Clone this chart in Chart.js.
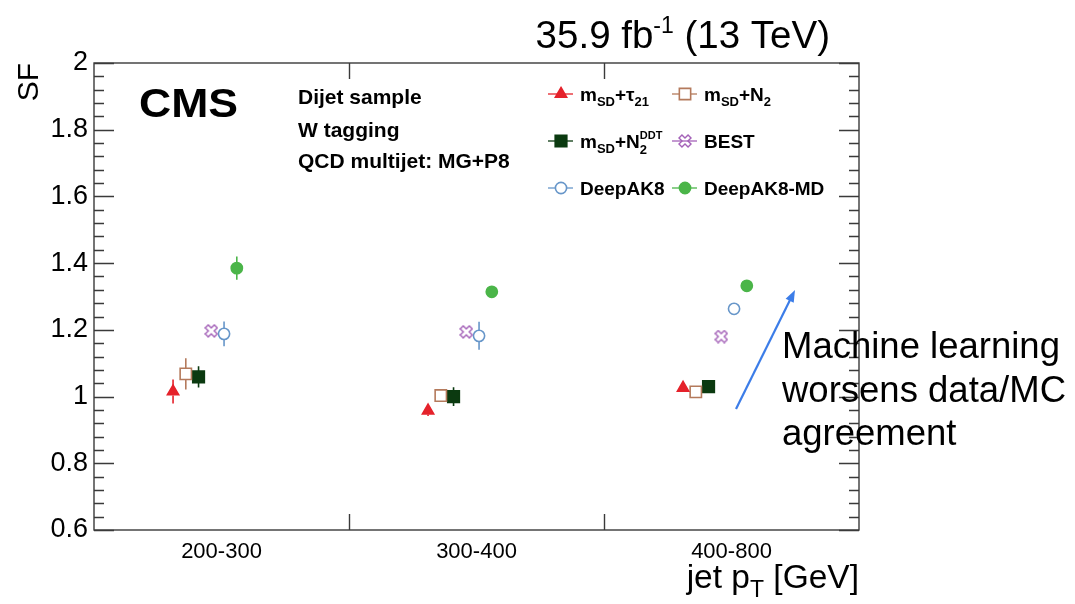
<!DOCTYPE html>
<html>
<head>
<meta charset="utf-8">
<title>SF vs jet pT</title>
<script src="https://cdn.jsdelivr.net/npm/chart.js@4.4.0/dist/chart.umd.min.js"></script>
<style>
  html, body { margin: 0; padding: 0; background: #fff; }
  canvas { display: block; }
</style>
</head>
<body>
<canvas id="sf_chart" width="1075" height="604"></canvas>
<script>
// pT bins (x axis categories) and y axis ticks
var ptBins = ["200-300", "300-400", "400-800"];
var binCentres = [0.5, 1.5, 2.5];
var binEdges = [1, 2];
var yTicks = [0.6, 0.8, 1, 1.2, 1.4, 1.6, 1.8, 2];

// scale factors and uncertainties per tagger, one entry per pT bin
var sfTau21 = [1.015, 0.958, 1.026];
var errTau21 = [0.036, 0.016, 0.012];
var sfN2 = [1.068, 1.003, 1.014];
var errN2 = [0.047, 0.012, 0.012];
var sfN2DDT = [1.059, 1.000, 1.030];
var errN2DDT = [0.032, 0.028, 0.012];
var sfBest = [1.197, 1.194, 1.180];
var errBest = [0.012, 0.010, 0.010];
var sfDeepAK8 = [1.188, 1.182, 1.263];
var errDeepAK8 = [0.037, 0.042, 0.012];
var sfDeepAK8MD = [1.385, 1.314, 1.332];
var errDeepAK8MD = [0.035, 0.012, 0.012];

// position of each tagger inside its bin (fraction of the bin width)
var binFraction = [0.31, 0.36, 0.41, 0.46, 0.51, 0.56];

var FONT = "'Liberation Sans', Arial, Helvetica, sans-serif";

// open X-shaped cross for BEST
function openCrossX(size, color) {
	var c = document.createElement("canvas");
	c.width = size;
	c.height = size;
	var g = c.getContext("2d");
	var a = 2.1, L = 6.4;
	g.translate(size / 2, size / 2);
	g.rotate(Math.PI / 4);
	g.beginPath();
	g.moveTo(-a, -L); g.lineTo(a, -L); g.lineTo(a, -a); g.lineTo(L, -a);
	g.lineTo(L, a); g.lineTo(a, a); g.lineTo(a, L); g.lineTo(-a, L);
	g.lineTo(-a, a); g.lineTo(-L, a); g.lineTo(-L, -a); g.lineTo(-a, -a);
	g.closePath();
	g.strokeStyle = color;
	g.lineWidth = 1.4;
	g.stroke();
	return c;
}

var taggers = [
	{ sf: sfTau21, err: errTau21, color: "#e5222b", style: "triangle", radius: 6.5, filled: true, gap: 4,
	  name: [{ t: "m" }, { t: "SD", s: 13, dy: 5 }, { t: "+\u03c4" }, { t: "21", s: 13, dy: 5 }] },
	{ sf: sfN2, err: errN2, color: "#b47a5c", style: "rect", radius: 8, filled: false, gap: 5.7,
	  name: [{ t: "m" }, { t: "SD", s: 13, dy: 5 }, { t: "+N" }, { t: "2", s: 13, dy: 5 }] },
	{ sf: sfN2DDT, err: errN2DDT, color: "#0b3a10", style: "rect", radius: 8.2, filled: true, gap: 5.8,
	  name: [{ t: "m" }, { t: "SD", s: 13, dy: 5 }, { t: "+N" }, { t: "2", s: 13, dy: 6, stay: true }, { t: "DDT", s: 11, dy: -9 }] },
	{ sf: sfBest, err: errBest, color: "#a462b8", style: openCrossX(14, "#a462b8"), radius: 7, filled: false, gap: 6,
	  name: [{ t: "BEST" }] },
	{ sf: sfDeepAK8, err: errDeepAK8, color: "#6796c9", style: "circle", radius: 5.6, filled: false, gap: 5.6,
	  name: [{ t: "DeepAK8" }] },
	{ sf: sfDeepAK8MD, err: errDeepAK8MD, color: "#4bb549", style: "circle", radius: 5.6, filled: true, gap: 5.6,
	  name: [{ t: "DeepAK8-MD" }] }
];

var datasets = taggers.map(function(tg, k) {
	return {
		data: tg.sf.map(function(v, i) { return { x: i + binFraction[k], y: v }; }),
		errors: tg.err,
		gap: tg.gap,
		borderColor: tg.color,
		backgroundColor: tg.filled ? tg.color : "rgba(0,0,0,0)",
		pointStyle: tg.style,
		pointRadius: tg.radius,
		pointBorderWidth: 1.6,
		showLine: false
	};
});

// draw a string made of pieces with sub/superscripts, returns width
function richWidth(ctx, parts, size, weight) {
	var w = 0;
	parts.forEach(function(p) {
		ctx.font = weight + " " + (p.s || size) + "px " + FONT;
		var pw = ctx.measureText(p.t).width;
		if (!p.stay) w += pw;
	});
	return w;
}
function drawRich(ctx, x, y, parts, size, weight) {
	parts.forEach(function(p) {
		ctx.font = weight + " " + (p.s || size) + "px " + FONT;
		ctx.fillText(p.t, x, y + (p.dy || 0));
		if (!p.stay) x += ctx.measureText(p.t).width;
	});
}

// vertical error bars, kept outside the marker
var errorBars = {
	id: "errorBars",
	beforeDatasetsDraw: function(chart) {
		var ctx = chart.ctx;
		var ys = chart.scales.y;
		chart.data.datasets.forEach(function(ds, i) {
			var meta = chart.getDatasetMeta(i);
			ctx.save();
			ctx.strokeStyle = ds.borderColor;
			ctx.lineWidth = 1.6;
			meta.data.forEach(function(pt, j) {
				var v = ds.data[j].y;
				var top = ys.getPixelForValue(v + ds.errors[j]);
				var bot = ys.getPixelForValue(v - ds.errors[j]);
				ctx.beginPath();
				if (pt.y - top > ds.gap) { ctx.moveTo(pt.x, pt.y - ds.gap); ctx.lineTo(pt.x, top); }
				if (bot - pt.y > ds.gap) { ctx.moveTo(pt.x, pt.y + ds.gap); ctx.lineTo(pt.x, bot); }
				ctx.stroke();
			});
			ctx.restore();
		});
	}
};

// frame with ticks on all four sides
var frame = {
	id: "frame",
	beforeDatasetsDraw: function(chart) {
		var ctx = chart.ctx, a = chart.chartArea;
		var xs = chart.scales.x, ys = chart.scales.y;
		ctx.save();
		ctx.strokeStyle = "#3a3a3a";
		ctx.lineWidth = 1.4;
		ctx.strokeRect(a.left, a.top, a.right - a.left, a.bottom - a.top);
		ctx.beginPath();
		for (var k = 0; k <= 35; k++) {
			var v = 0.6 + k * 0.04;
			var py = Math.round(ys.getPixelForValue(v)) + 0.5;
			var len = (k % 5 === 0) ? 20 : 10;
			ctx.moveTo(a.left, py); ctx.lineTo(a.left + len, py);
			ctx.moveTo(a.right, py); ctx.lineTo(a.right - len, py);
		}
		binEdges.forEach(function(e) {
			var px = Math.round(xs.getPixelForValue(e)) + 0.5;
			ctx.moveTo(px, a.bottom); ctx.lineTo(px, a.bottom - 16);
			ctx.moveTo(px, a.top); ctx.lineTo(px, a.top + 16);
		});
		ctx.stroke();
		ctx.restore();
	}
};

// labels, legend and annotation
var texts = {
	id: "texts",
	afterDraw: function(chart) {
		var ctx = chart.ctx, a = chart.chartArea;
		ctx.save();
		ctx.fillStyle = "#000";
		ctx.textBaseline = "alphabetic";
		ctx.textAlign = "left";

		// luminosity
		var lumi = [{ t: "35.9 fb" }, { t: "-1", s: 23, dy: -15 }, { t: " (13 TeV)" }];
		drawRich(ctx, 830 - richWidth(ctx, lumi, 38.5, "normal"), 48, lumi, 38.5, "normal");

		// CMS
		ctx.font = "bold 40px " + FONT;
		var cw = ctx.measureText("CMS").width;
		ctx.save();
		ctx.translate(139, 117);
		ctx.scale(99 / cw, 1);
		ctx.fillText("CMS", 0, 0);
		ctx.restore();

		ctx.font = "bold 21px " + FONT;
		ctx.fillText("Dijet sample", 298, 104);
		ctx.fillText("W tagging", 298, 137);
		ctx.fillText("QCD multijet: MG+P8", 298, 168);

		// legend
		var cols = [561, 685], rows = [94, 141, 188];
		taggers.forEach(function(tg, k) {
			var mx = cols[k % 2], my = rows[Math.floor(k / 2)];
			ctx.save();
			ctx.strokeStyle = tg.color;
			ctx.lineWidth = 1.3;
			ctx.beginPath();
			ctx.moveTo(mx - 13, my); ctx.lineTo(mx + 12, my);
			ctx.stroke();
			ctx.fillStyle = tg.filled ? tg.color : "#fff";
			ctx.lineWidth = 1.6;
			Chart.helpers.drawPoint(ctx, { pointStyle: tg.style, radius: tg.radius, borderWidth: 1.6, rotation: 0 }, mx, my);
			ctx.restore();
			drawRich(ctx, mx + 19, my + 7, tg.name, 19, "bold");
		});

		// x axis title
		var xt = [{ t: "jet p" }, { t: "T", s: 23, dy: 9 }, { t: " [GeV]" }];
		drawRich(ctx, a.right - richWidth(ctx, xt, 33.5, "normal"), 588, xt, 33.5, "normal");

		// arrow and comment
		ctx.strokeStyle = "#3c7de8";
		ctx.fillStyle = "#3c7de8";
		ctx.lineWidth = 2.2;
		var x0 = 736, y0 = 409, x1 = 795, y1 = 290;
		var ang = Math.atan2(y1 - y0, x1 - x0);
		ctx.beginPath();
		ctx.moveTo(x0, y0);
		ctx.lineTo(x1 - 9 * Math.cos(ang), y1 - 9 * Math.sin(ang));
		ctx.stroke();
		ctx.beginPath();
		ctx.moveTo(x1, y1);
		ctx.lineTo(x1 - 12 * Math.cos(ang) + 4.5 * Math.sin(ang), y1 - 12 * Math.sin(ang) - 4.5 * Math.cos(ang));
		ctx.lineTo(x1 - 12 * Math.cos(ang) - 4.5 * Math.sin(ang), y1 - 12 * Math.sin(ang) + 4.5 * Math.cos(ang));
		ctx.closePath();
		ctx.fill();

		ctx.fillStyle = "#000";
		ctx.font = "36.5px " + FONT;
		ctx.fillText("Machine learning", 782, 358);
		ctx.fillText("worsens data/MC", 782, 402);
		ctx.fillText("agreement", 782, 445);
		ctx.restore();
	}
};

var chart = new Chart(document.getElementById("sf_chart"), {
	type: "scatter",
	data: { datasets: datasets },
	plugins: [frame, errorBars, texts],
	options: {
		responsive: false,
		animation: false,
		devicePixelRatio: 1,
		events: [],
		layout: { padding: { left: 0, top: 63, right: 216, bottom: 0 } },
		plugins: { legend: { display: false }, tooltip: { enabled: false } },
		scales: {
			x: {
				type: "linear", min: 0, max: 3,
				grid: { display: false, drawTicks: false },
				border: { display: false },
				afterBuildTicks: function(s) { s.ticks = binCentres.map(function(v) { return { value: v }; }); },
				afterFit: function(s) { s.height = 74; },
				ticks: {
					autoSkip: false, maxRotation: 0, padding: 9, color: "#000",
					font: { family: FONT, size: 22 },
					callback: function(v, i) { return ptBins[i]; }
				}
			},
			y: {
				type: "linear", min: 0.6, max: 2,
				grid: { display: false, drawTicks: false },
				border: { display: false },
				afterBuildTicks: function(s) { s.ticks = yTicks.map(function(v) { return { value: v }; }); },
				afterFit: function(s) { s.width = 94; },
				ticks: {
					autoSkip: false, padding: 6, color: "#000",
					font: { family: FONT, size: 27 },
					callback: function(v) { return String(+v.toFixed(1)); }
				},
				title: {
					display: true, text: "SF", align: "end", color: "#000",
					font: { family: FONT, size: 30 },
					padding: { top: 12, bottom: 0 }
				}
			}
		}
	}
});
</script>
</body>
</html>
